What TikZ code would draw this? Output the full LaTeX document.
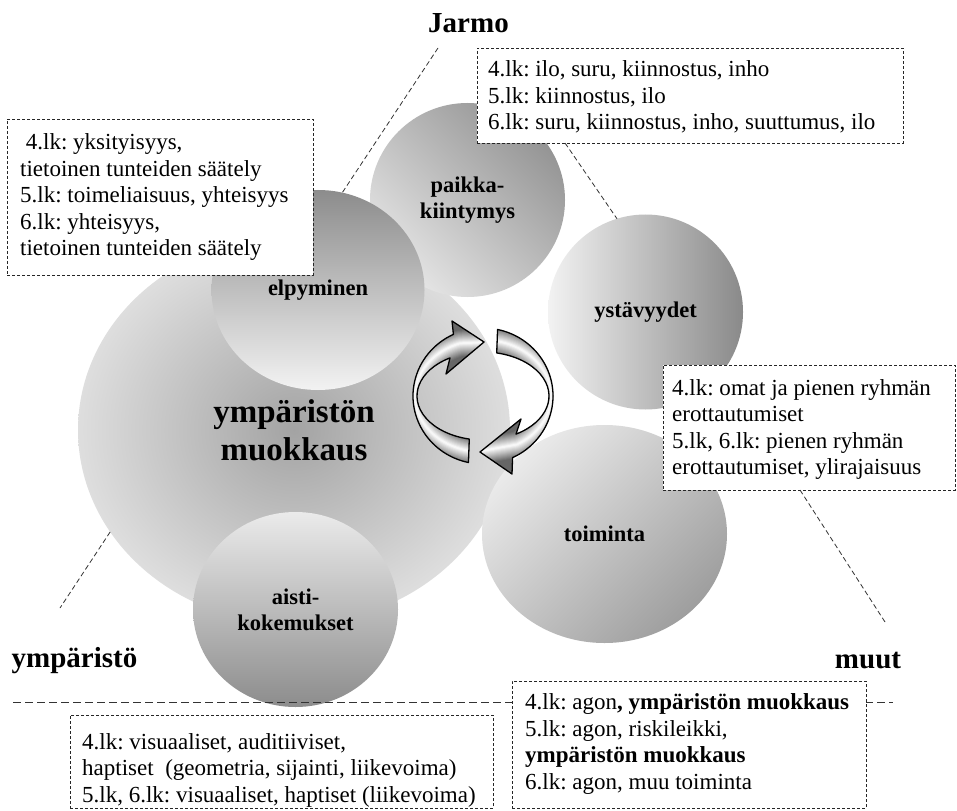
\documentclass[tikz,border=0pt]{standalone}
\usepackage{fontspec}
\setmainfont{Liberation Serif}
\usetikzlibrary{shapes.geometric,calc}
\frenchspacing

% outlines of the two twisted ribbon arrows of the cycle symbol
\newcommand\leftribbonpath{($(cyc)+(102:70 and 68)$) arc[start angle=102, end angle=245, x radius=70, y radius=68] -- (452,321) -- (484,342) -- (446,374) -- ($(cyc)+(240:66 and 44)$) arc[start angle=240, end angle=102, x radius=66, y radius=44] -- cycle}
\newcommand\rightribbonpath{($(cyc)+(282:70 and 68)$) arc[start angle=282, end angle=425, x radius=70, y radius=68] -- (512,474) -- (480,452) -- (521,419) -- ($(cyc)+(420:66 and 44)$) arc[start angle=420, end angle=282, x radius=66, y radius=44] -- cycle}
% centre lines used for the tube highlight
\newcommand\leftribbonmid{($(cyc)+(96:68 and 56)$) arc[start angle=96, end angle=250, x radius=68, y radius=56] -- (488,342)}
\newcommand\rightribbonmid{($(cyc)+(276:68 and 56)$) arc[start angle=276, end angle=420, x radius=68, y radius=56] -- (476,452)}

\tikzset{
  bubble/.style={ellipse, inner sep=0pt, outer sep=0pt, align=center,
    font=\fontsize{22.5}{26}\selectfont\bfseries},
  notebox/.style={rectangle, draw=black!85, line width=0.9pt,
    dash pattern=on 3pt off 2pt, fill=white, inner sep=0pt, outer sep=0pt,
    anchor=north west},
  notetext/.style={anchor=base west, inner sep=0pt,
    font=\fontsize{23}{26.5}\selectfont},
  corner/.style={anchor=base, inner sep=0pt,
    font=\fontsize{29}{34}\selectfont\bfseries},
  leader/.style={draw=black!80, line width=0.8pt, dash pattern=on 5pt off 3pt},
  baseline rule/.style={draw=black!80, line width=0.8pt, dash pattern=on 8pt off 4pt},
  ribbon/.style={draw=black, line width=1.3pt, line join=round},
}
\newcommand\lines[1]{\begin{tabular}[t]{@{}l@{}}#1\end{tabular}}

\begin{document}
\begin{tikzpicture}[x=1pt, y=-1pt]
\fill[white] (0,0) rectangle (957,810);
\useasboundingbox (0,0) rectangle (957,810);

% --- theme bubbles ---
\node[bubble, minimum width=432, minimum height=388, shading=radial,
      inner color=black!36, outer color=black!13,
      font=\fontsize{33}{38}\selectfont\bfseries] (ymp) at (294,430) {ympäristön\\muokkaus};
\node[bubble, minimum width=195, minimum height=194,
      top color=black!42, bottom color=black!10, shading angle=-45] (pai) at (467.5,200) {paikka-\\kiintymys};
\node[bubble, minimum width=213, minimum height=200,
      top color=black!45, bottom color=black!5] (elp) at (318,290) {elpyminen};
\node[bubble, minimum width=195, minimum height=195,
      left color=black!5, right color=black!46] (yst) at (645.5,312) {ystävyydet};
\node[bubble, minimum width=245, minimum height=218,
      top color=black!8, bottom color=black!38, shading angle=45] (toi) at (604.5,534) {toiminta};
\node[bubble, minimum width=205, minimum height=195,
      top color=black!8, bottom color=black!45] (ais) at (295.5,609.5) {aisti-\\kokemukset};

% --- cycle arrows: dark body, soft light core, black outline ---
\coordinate (cyc) at (483,396);
\begin{scope}
  \clip \leftribbonpath;
  \fill[black!60] \leftribbonpath;
  \foreach \i in {0,...,12}
    {\pgfmathsetmacro\wid{26-2*\i}\pgfmathsetmacro\pct{56-4.4*\i}
     \draw[line width=\wid pt, black!\pct] \leftribbonmid;}
\end{scope}
\draw[ribbon] \leftribbonpath;
\begin{scope}
  \clip \rightribbonpath;
  \fill[black!60] \rightribbonpath;
  \foreach \i in {0,...,12}
    {\pgfmathsetmacro\wid{26-2*\i}\pgfmathsetmacro\pct{56-4.4*\i}
     \draw[line width=\wid pt, black!\pct] \rightribbonmid;}
\end{scope}
\draw[ribbon] \rightribbonpath;

% --- corner labels ---
\node[corner] (jarmo) at (468.5,33) {Jarmo};
\node[corner] (ymparisto) at (74.5,667) {ympäristö};
\node[corner] (muut) at (868,668) {muut};

% --- dashed leader lines ---
\coordinate (jarmoFoot) at (438,48);
\coordinate (ympFoot) at (60,608);
\coordinate (muutFoot) at (885,622);
\coordinate (ruleL) at (13,702);
\coordinate (ruleR) at (893,702);
\draw[leader] (jarmoFoot) -- (elp.76);
\draw[leader] (ymp.209) -- (ympFoot);
\draw[baseline rule] (ruleL) -- (ruleR);

% --- note boxes ---
\node[notebox, minimum width=306, minimum height=156] (b1) at (7,119) {};
\node[notebox, minimum width=426, minimum height=95] (b2) at (477,48) {};
\node[notebox, minimum width=292, minimum height=125] (b3) at (663,365) {};
\node[notebox, minimum width=423, minimum height=93] (b4) at (70,715) {};
\node[notebox, minimum width=354, minimum height=127] (b5) at (512,681) {};

\coordinate (b2foot) at ($(b2.south west)+(88,0)$);
\coordinate (b3foot) at ($(b3.south west)+(137,0)$);
\draw[leader] (b2foot) -- (yst.107);
\draw[leader] (b3foot) -- (muutFoot);

\node[notetext] (t1) at (20,150) {\lines{\ 4.lk: yksityisyys,\\
  tietoinen tunteiden säätely\\
  5.lk: toimeliaisuus, yhteisyys\\
  6.lk: yhteisyys,\\
  tietoinen tunteiden säätely}};
\node[notetext] (t2) at (488,77) {\lines{4.lk: ilo, suru, kiinnostus, inho\\
  5.lk: kiinnostus, ilo\\
  6.lk: suru, kiinnostus, inho, suuttumus, ilo}};
\node[notetext] (t3) at (672,395) {\lines{4.lk: omat ja pienen ryhmän\\
  erottautumiset\\
  5.lk, 6.lk: pienen ryhmän\\
  erottautumiset, ylirajaisuus}};
\node[notetext] (t4) at (82,749) {\lines{4.lk: visuaaliset, auditiiviset,\\
  haptiset\ \ (geometria, sijainti, liikevoima)\\
  5.lk, 6.lk: visuaaliset, haptiset (liikevoima)}};
\node[notetext] (t5) at (525,709.5) {\lines{4.lk: agon\textbf{, ympäristön muokkaus}\\
  5.lk: agon, riskileikki,\\
  \textbf{ympäristön muokkaus}\\
  6.lk: agon, muu toiminta}};
\end{tikzpicture}
\end{document}
